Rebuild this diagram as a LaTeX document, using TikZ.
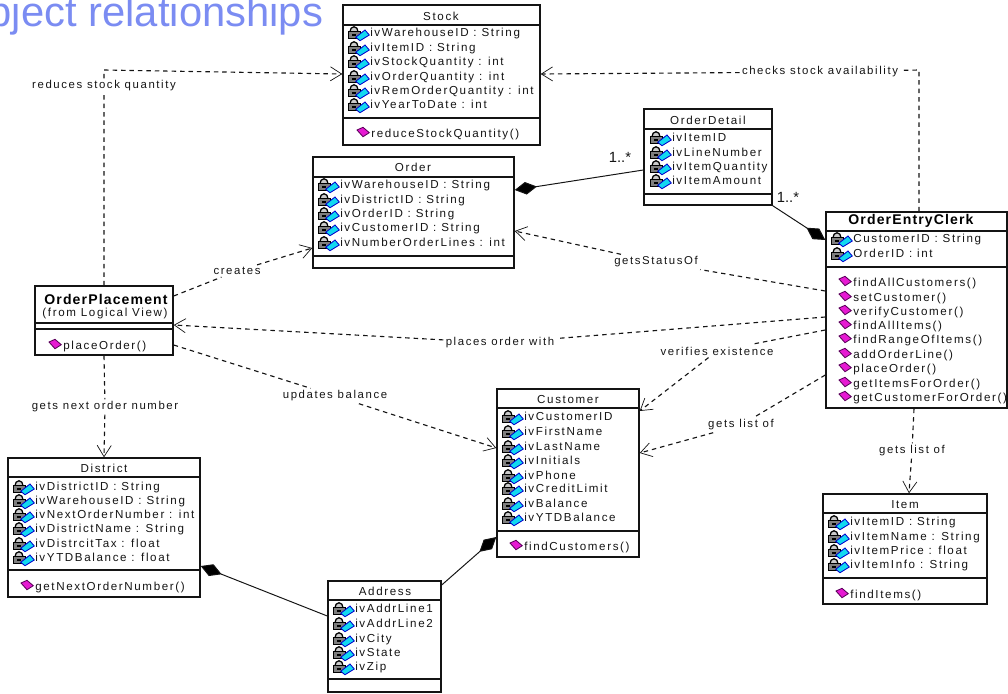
\documentclass[tikz,border=0pt]{standalone}
\usepackage{fontspec}
\setmainfont{Liberation Sans}
\newfontfamily\umlfont[LetterSpace=14]{Liberation Sans}
\newfontfamily\umlbold[LetterSpace=8]{Liberation Sans Bold}
\usetikzlibrary{arrows.meta, fit}
\definecolor{headblue}{HTML}{7B8CF2}
\definecolor{ink}{HTML}{141414}
\definecolor{lockgrey}{HTML}{7E7E7E}
\definecolor{keycyan}{HTML}{12D8F0}
\definecolor{opmagenta}{HTML}{E61AD2}
\tikzstyle{umlbox}=[draw=ink, line width=1pt, inner sep=0pt]
\tikzstyle{sep}=[draw=ink, line width=1pt]
\tikzstyle{attr}=[anchor=base west, inner sep=0pt, yshift=-2.6pt, text=ink, font=\umlfont\fontsize{8.25}{9}\selectfont]
\tikzstyle{title}=[inner sep=0pt, text=ink, font=\umlfont\fontsize{8.25}{9}\selectfont]
\tikzstyle{boldtitle}=[inner sep=0pt, text=black, font=\umlbold\fontsize{10}{11}\selectfont]
\tikzstyle{rel}=[inner sep=1.5pt, text=ink, font=\umlfont\fontsize{8.1}{9}\selectfont]
\tikzstyle{mult}=[inner sep=0pt, text=ink, font=\fontsize{10.5}{12}\selectfont]
\tikzstyle{dep}=[draw=ink, line width=0.8pt, dash pattern=on 3.2pt off 2.8pt, -{Straight Barb[length=8pt, width=10pt, line width=0.5pt]}]
\tikzstyle{comp}=[draw=ink, line width=0.7pt, {Diamond[length=16pt, width=9pt, fill=black]}-]
\tikzset{
	attrib/.pic={
		\draw[black, line width=0.9pt, fill=lockgrey!40] (-20,-1.3) arc [start angle=180, end angle=360, x radius=4, y radius=5];
		\filldraw[draw=black, fill=lockgrey, line width=0.5pt] (-22,-1.3) rectangle (-10,5.3);
		\fill[black] (-18,1) rectangle (-14,2.6);
		\filldraw[draw=blue!80!black, fill=keycyan, line width=0.6pt] (-14.3,4.3) -- (-5,-3) -- (-0.7,2) -- (-10,7.7) -- cycle;
	},
	oper/.pic={
		\filldraw[draw=violet!70!black, fill=opmagenta, line width=0.6pt] (-14,-4) -- (-8,-6.7) -- (-1.7,-1.3) -- (-8,2.7) -- cycle;
	}
}
\begin{document}
\begin{tikzpicture}[x=0.025cm, y=-0.025cm]
	\useasboundingbox (0,0) rectangle (1008,693);

% HEADING
	\node[anchor=base west, inner sep=0pt, text=headblue, font=\fontsize{29.7}{32}\selectfont] (heading) at (-44,26) {Object relationships};

% BOXES
	\node[umlbox, fit={(343,5) (540,145)}] (stock) {};
	\draw[sep] (stock.west |- 0,25) -- (stock.east |- 0,25);
	\draw[sep] (stock.west |- 0,118) -- (stock.east |- 0,118);
	\node[title] (stocktitle) at (441,16) {Stock};
	\foreach \ty/\txt [count=\n] in {33/ivWarehouseID : String, 48/ivItemID : String, 62/ivStockQuantity : int, 77/ivOrderQuantity : int, 91/ivRemOrderQuantity : int, 105/ivYearToDate : int} {
		\pic at (370,\ty) {attrib};
		\node[attr] (stock-\n) at (370,\ty) {\txt};
	}
	\pic at (371,134) {oper};
	\node[attr] (stock-op) at (371,134) {reduceStockQuantity()};

	\node[umlbox, fit={(313,157) (514,268)}] (order) {};
	\draw[sep] (order.west |- 0,177) -- (order.east |- 0,177);
	\draw[sep] (order.west |- 0,256) -- (order.east |- 0,256);
	\node[title] (ordertitle) at (413,167) {Order};
	\foreach \ty/\txt [count=\n] in {185/ivWarehouseID : String, 200/ivDistrictID : String, 214/ivOrderID : String, 228/ivCustomerID : String, 243/ivNumberOrderLines : int} {
		\pic at (340,\ty) {attrib};
		\node[attr] (order-\n) at (340,\ty) {\txt};
	}

	\node[umlbox, fit={(644,109) (772,205)}] (detail) {};
	\draw[sep] (detail.west |- 0,129) -- (detail.east |- 0,129);
	\draw[sep] (detail.west |- 0,194) -- (detail.east |- 0,194);
	\node[title] (detailtitle) at (708,120) {OrderDetail};
	\foreach \ty/\txt [count=\n] in {138/ivItemID, 153/ivLineNumber, 167/ivItemQuantity, 181/ivItemAmount} {
		\pic at (672,\ty) {attrib};
		\node[attr] (detail-\n) at (672,\ty) {\txt};
	}

	\node[umlbox, fit={(826,212) (1007,408)}] (clerk) {};
	\draw[sep] (clerk.west |- 0,231) -- (clerk.east |- 0,231);
	\draw[sep] (clerk.west |- 0,267) -- (clerk.east |- 0,267);
	\node[boldtitle] (clerktitle) at (911,221) {OrderEntryClerk};
	\foreach \ty/\txt [count=\n] in {239/CustomerID : String, 254/OrderID : int} {
		\pic at (853,\ty) {attrib};
		\node[attr] (clerk-\n) at (853,\ty) {\txt};
	}
	\foreach \ty/\txt [count=\n] in {283/findAllCustomers(), 298/setCustomer(), 312/verifyCustomer(), 326/findAllItems(), 340/findRangeOfItems(), 355/addOrderLine(), 369/placeOrder(), 384/getItemsForOrder(), 398/getCustomerForOrder()} {
		\pic at (853,\ty) {oper};
		\node[attr] (clerk-op\n) at (853,\ty) {\txt};
	}

	\node[umlbox, fit={(35,286) (173,355)}] (placement) {};
	\draw[sep] (placement.west |- 0,323) -- (placement.east |- 0,323);
	\draw[sep] (placement.west |- 0,329) -- (placement.east |- 0,329);
	\node[boldtitle] (placementtitle) at (106,299) {OrderPlacement};
	\node[title] (placementfrom) at (105,313) {(from Logical View)};
	\pic at (63,346) {oper};
	\node[attr] (placement-op) at (63,346) {placeOrder()};

	\node[umlbox, fit={(8,458) (200,597)}] (district) {};
	\draw[sep] (district.west |- 0,477) -- (district.east |- 0,477);
	\draw[sep] (district.west |- 0,570) -- (district.east |- 0,570);
	\node[title] (districttitle) at (104,468) {District};
	\foreach \ty/\txt [count=\n] in {487/ivDistrictID : String, 501/ivWarehouseID : String, 515/ivNextOrderNumber : int, 529/ivDistrictName : String, 544/ivDistrcitTax : float, 558/ivYTDBalance : float} {
		\pic at (35,\ty) {attrib};
		\node[attr] (district-\n) at (35,\ty) {\txt};
	}
	\pic at (35,587) {oper};
	\node[attr] (district-op) at (35,587) {getNextOrderNumber()};

	\node[umlbox, fit={(497,389) (639,557)}] (customer) {};
	\draw[sep] (customer.west |- 0,408) -- (customer.east |- 0,408);
	\draw[sep] (customer.west |- 0,531) -- (customer.east |- 0,531);
	\node[title] (customertitle) at (568,399) {Customer};
	\foreach \ty/\txt [count=\n] in {417/ivCustomerID, 432/ivFirstName, 447/ivLastName, 461/ivInitials, 476/ivPhone, 489/ivCreditLimit, 504/ivBalance, 518/ivYTDBalance} {
		\pic at (524,\ty) {attrib};
		\node[attr] (customer-\n) at (524,\ty) {\txt};
	}
	\pic at (524,547) {oper};
	\node[attr] (customer-op) at (524,547) {findCustomers()};

	\node[umlbox, fit={(328,581) (441,692)}] (address) {};
	\draw[sep] (address.west |- 0,600) -- (address.east |- 0,600);
	\draw[sep] (address.west |- 0,679) -- (address.east |- 0,679);
	\node[title] (addresstitle) at (385,591) {Address};
	\foreach \ty/\txt [count=\n] in {609/ivAddrLine1, 624/ivAddrLine2, 639/ivCity, 653/ivState, 667/ivZip} {
		\pic at (355,\ty) {attrib};
		\node[attr] (address-\n) at (355,\ty) {\txt};
	}

	\node[umlbox, fit={(823,494) (987,604)}] (item) {};
	\draw[sep] (item.west |- 0,513) -- (item.east |- 0,513);
	\draw[sep] (item.west |- 0,578) -- (item.east |- 0,578);
	\node[title] (itemtitle) at (905,505) {Item};
	\foreach \ty/\txt [count=\n] in {522/ivItemID : String, 537/ivItemName : String, 551/ivItemPrice : float, 565/ivItemInfo : String} {
		\pic at (850,\ty) {attrib};
		\node[attr] (item-\n) at (850,\ty) {\txt};
	}
	\pic at (850,595) {oper};
	\node[attr] (item-op) at (850,595) {findItems()};

% LABELS
	\node[rel] (reduces) at (104,86) {reduces stock quantity};
	\node[rel] (checks) at (820,72) {checks stock availability};
	\node[rel] (creates) at (237,271) {creates};
	\node[rel] (status) at (656,262) {getsStatusOf};
	\node[rel] (places) at (500,343) {places order with};
	\node[rel] (verifies) at (717,351) {verifies existence};
	\node[rel] (listcustomer) at (741,425) {gets list of};
	\node[rel] (listitem) at (912,451) {gets list of};
	\node[rel] (balance) at (335,396) {updates balance};
	\node[rel] (nextnumber) at (105,407) {gets next order number};
	\node[mult] (multorder) at (620,157) {1..*};
	\node[mult] (multclerk) at (788,197) {1..*};

	\coordinate (reducesbend) at (104,70);
	\coordinate (checksbend) at (919,70);

% DEPENDENCIES
	\draw[dep] (placement.north) -- (reduces) -- (reducesbend) -- (stock.west |- 0,74);
	\draw[dep] (919,0 |- clerk.north) -- (checksbend) -- (checks) -- (stock.east |- 0,74);
	\draw[dep] (placement.east |- 0,296) -- (creates) -- (order.west |- 0,248);
	\draw[dep] (clerk.west |- 0,291) -- (status) -- (order.east |- 0,231);
	\draw[dep] (clerk.west |- 0,317) -- (places) -- (placement.east |- 0,325);
	\draw[dep] (clerk.west |- 0,330) -- (verifies) -- (customer.east |- 0,411);
	\draw[dep] (clerk.west |- 0,375) -- (listcustomer) -- (customer.east |- 0,453);
	\draw[dep] (914,0 |- clerk.south) -- (listitem) -- (909,0 |- item.north);
	\draw[dep] (placement.east |- 0,345) -- (balance) -- (customer.west |- 0,448);
	\draw[dep] (placement.south) -- (nextnumber) -- (district.north -| placement.south);

% COMPOSITION
	\draw[comp] (order.east |- 0,190) -- (detail.west |- 0,170);
	\draw[comp] (clerk.west |- 0,240) -- (detail.south east);
	\draw[comp] (district.east |- 0,566) -- (address.west |- 0,616);
	\draw[comp] (customer.west |- 0,537) -- (address.east |- 0,585);

\end{tikzpicture}
\end{document}
